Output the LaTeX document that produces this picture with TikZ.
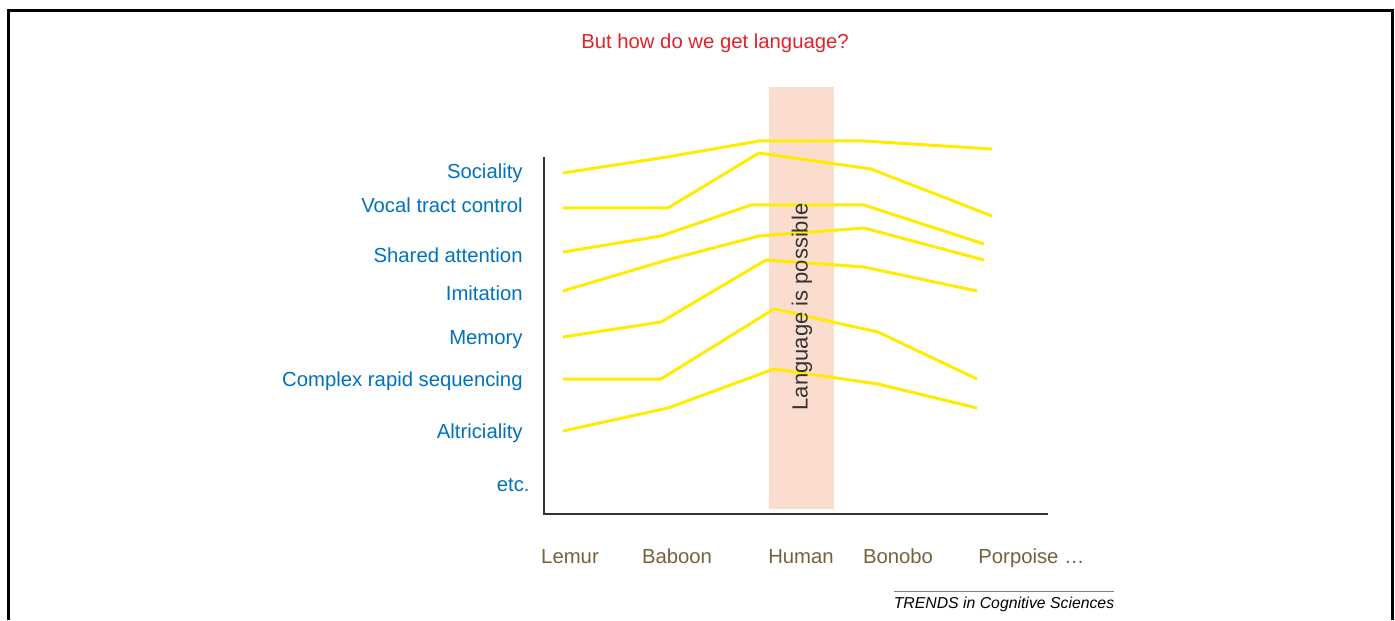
\documentclass[tikz,border=0pt]{standalone}
\usepackage{fontspec}
\setmainfont{Liberation Sans}
\usetikzlibrary{positioning}
\definecolor{traitblue}{HTML}{0072BC}
\definecolor{speciesbrown}{HTML}{76603E}
\definecolor{askred}{HTML}{E62028}
\definecolor{lineyellow}{HTML}{FFEC00}
\definecolor{bandpink}{HTML}{FBDDD0}
\definecolor{axisgray}{HTML}{333333}

\begin{document}
\begin{tikzpicture}[x=0.5pt, y=-0.5pt,
    every node/.style={inner sep=0pt, font=\fontsize{10.15}{12}\selectfont},
    trait/.style={text=traitblue, anchor=base east},
    species/.style={text=speciesbrown, anchor=base},
    profile/.style={draw=lineyellow, line width=1.5pt, line join=round}]
  \useasboundingbox (0,0) rectangle (1395,620);
  % open frame
  \draw[line width=1.5pt] (8,620) -- (8,11) -- (1392,11) -- (1392,620);

  \node[text=askred, anchor=base] (question) at (715,49) {But how do we get language?};

  % human band
  \fill[bandpink] (769,87) rectangle (834,509);

  % axes
  \coordinate (ytop) at (544,157);
  \coordinate (xend) at (1048,514);
  \draw[axisgray, line width=1pt] (ytop) |- (xend);

  % trait labels
  \node[trait] (sociality) at (523,179) {Sociality};
  \node[trait] (vocal) at (523,213) {Vocal tract control};
  \node[trait] (shared) at (523,262) {Shared attention};
  \node[trait] (imitation) at (523,300) {Imitation};
  \node[trait] (memory) at (523,344) {Memory};
  \node[trait] (sequencing) at (523,386) {Complex rapid sequencing};
  \node[trait] (altriciality) at (523,438) {Altriciality};
  \node[trait] (etc) at (530,491) {etc.};

  % species along the bottom
  \node[species] (lemur) at (570,563) {Lemur};
  \node[species] (baboon) at (677,563) {Baboon};
  \node[species] (human) at (801,563) {Human};
  \node[species] (bonobo) at (898,563) {Bonobo};
  \node[species, anchor=base west] (porpoise) at (978,563) {Porpoise …};

  % one profile per trait
  \draw[profile] (563,173) -- (667,157) -- (759,141) -- (864,141) -- (992,149);
  \draw[profile] (563,208) -- (668,208) -- (759,153) -- (871,169) -- (992,216);
  \draw[profile] (563,252) -- (661,236) -- (751,205) -- (864,205) -- (984,244);
  \draw[profile] (563,291) -- (667,260) -- (759,236) -- (864,228) -- (984,260);
  \draw[profile] (563,337) -- (661,322) -- (766,260) -- (864,267) -- (977,291);
  \draw[profile] (563,379) -- (661,379) -- (774,309) -- (878,332) -- (977,379);
  \draw[profile] (563,431) -- (668,408) -- (774,369) -- (878,384) -- (977,408);

  % band caption, over the profiles
  \node[rotate=90, font=\fontsize{11}{13}\selectfont, text=axisgray] (possible) at (802,307) {Language is possible};

  % journal credit
  \coordinate (ruleleft) at (894,591);
  \coordinate (ruleright) at (1114,591);
  \draw[gray, line width=0.5pt] (ruleleft) -- (ruleright);
  \node[anchor=base, font=\fontsize{7.9}{9}\selectfont\itshape] (trends) at (1004,608) {TRENDS in Cognitive Sciences};
\end{tikzpicture}
\end{document}
